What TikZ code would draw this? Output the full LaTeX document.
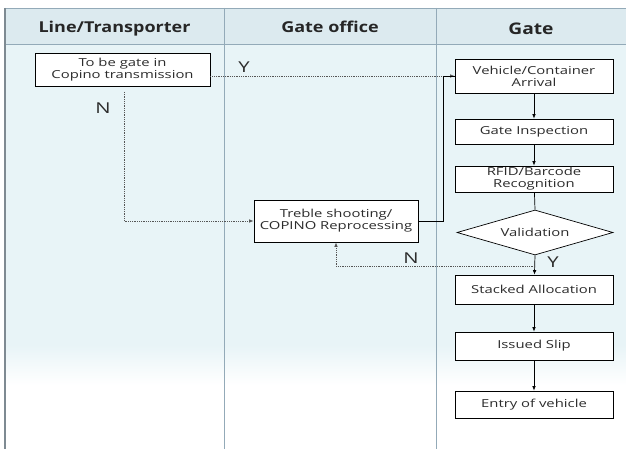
\documentclass[tikz,border=0pt]{standalone}
\usepackage{fontspec}
\setmainfont{Open Sans}
\newfontfamily\boxfont[FakeStretch=1.35]{Open Sans}
\newfontfamily\headfont[FakeStretch=1.2]{Open Sans}
\usetikzlibrary{arrows.meta,shapes.geometric,calc}

\definecolor{headfill}{HTML}{DCEAEF}
\definecolor{bodyfill}{HTML}{E8F4F7}
\definecolor{gridline}{HTML}{93AAB8}
\definecolor{edgegray}{HTML}{7E8A92}
\definecolor{inkgray}{HTML}{2C2C2C}
\definecolor{dotgray}{HTML}{555555}

\tikzset{
  stepbox/.style={draw=black, line width=0.7pt, fill=white, minimum width=158pt,
    inner sep=0pt, align=center, text=inkgray,
    font=\boxfont\fontsize{11}{12}\selectfont},
  decisionbox/.style={stepbox, shape=diamond, aspect=3.5, minimum width=156pt,
    minimum height=45pt},
  headtext/.style={anchor=base, text=black!85,
    font=\headfont\bfseries\fontsize{15}{18}\selectfont},
  flowlabel/.style={text=inkgray, font=\boxfont\fontsize{15}{17}\selectfont},
  flow/.style={line width=0.7pt, -{Latex[length=4.5pt,width=3.6pt]}},
  plainflow/.style={line width=0.7pt},
  dottedflow/.style={line width=0.8pt, dotgray, dash pattern=on 0.9pt off 0.9pt,
    -{Latex[length=4.5pt,width=3.6pt]}},
}

\begin{document}
\begin{tikzpicture}[x=1pt, y=-1pt]
  % page
  \fill[white] (0,0) rectangle (626,449);
  \useasboundingbox (0,0) rectangle (626,449);

  % swimlane body and header
  \fill[bodyfill] (5,44) rectangle (626,345);
  \shade[top color=bodyfill, bottom color=white] (5,345) rectangle (626,385);
  \fill[headfill] (5,8) rectangle (626,44);

  % lane lines
  \draw[gridline, line width=0.8pt] (5,8) -- (626,8);
  \draw[gridline, line width=0.8pt] (5,44) -- (626,44);
  \draw[gridline, line width=0.8pt] (224,8) -- (224,449);
  \draw[gridline, line width=0.8pt] (436,8) -- (436,449);
  \draw[edgegray, line width=1.3pt] (5,8) -- (5,449);

  % lane titles
  \node[headtext] (h1) at (114.5,33) {Line/Transporter};
  \node[headtext] (h2) at (330,33) {Gate office};
  \node[headtext, font=\headfont\bfseries\fontsize{16}{18}\selectfont] (h3) at (531,35) {Gate};

  % steps
  \node[stepbox, minimum width=175pt, minimum height=33pt] (tobe) at (122.5,69.5)
    {To be gate in\\Copino transmission};
  \node[stepbox, minimum width=164pt, minimum height=42pt] (treble) at (336,221)
    {Treble shooting/\\COPINO Reprocessing};
  \node[stepbox, minimum height=34pt] (veh) at (534,76) {Vehicle/Container\\Arrival};
  \node[stepbox, minimum height=25pt] (insp) at (534,131.5) {Gate Inspection};
  \node[stepbox, minimum height=26pt] (rfid) at (534,179) {RFID/Barcode\\Recognition};
  \node[decisionbox] (valid) at (535,232.5) {Validation};
  \node[stepbox, minimum height=29pt] (stack) at (534,289.5) {Stacked Allocation};
  \node[stepbox, minimum height=28pt] (slip) at (534,346) {Issued Slip};
  \node[stepbox, minimum height=27pt] (entry) at (534,404.5) {Entry of vehicle};

  % routing points
  \coordinate (nstart) at (124,92);
  \coordinate (vnode) at (535,266);
  \coordinate (joinx) at (443,221);

  % transmission branches
  \draw[dottedflow] (tobe.east |- veh.west) -- (veh.west);
  \draw[dottedflow] (nstart) |- (treble.west);
  \node[flowlabel] (ylab1) at (244,67) {Y};
  \node[flowlabel] (nlab1) at (103,108) {N};

  % reprocessing back to arrival
  \draw[plainflow] (treble.east) -- (joinx) |- (veh.west);

  % gate sequence
  \draw[flow] (veh) -- (insp);
  \draw[flow] (insp) -- (rfid);
  \draw[plainflow] (rfid) -- (valid.north);
  \draw[flow] (valid.south) -- (stack);
  \draw[flow] (stack) -- (slip);
  \draw[flow] (slip) -- (entry);

  % validation failure
  \draw[dottedflow] (vnode) -| (treble.south);
  \node[flowlabel] (nlab2) at (411,258) {N};
  \node[flowlabel] (ylab2) at (553,262) {Y};
\end{tikzpicture}
\end{document}
